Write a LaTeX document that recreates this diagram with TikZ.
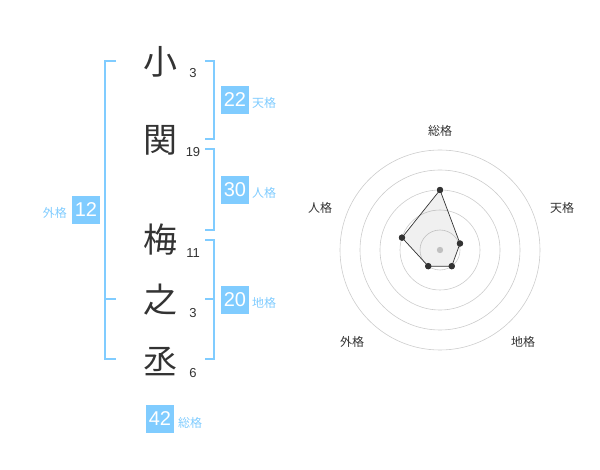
\documentclass[tikz,border=0pt]{standalone}
\usepackage{fontspec}
\usetikzlibrary{calc}
\setmainfont{Liberation Sans}
\newfontfamily\jp{Noto Sans CJK JP}
\definecolor{kblue}{HTML}{80CCFF}
\definecolor{kdark}{HTML}{333333}
\definecolor{kgrid}{HTML}{CCCCCC}
\begin{document}
\begin{tikzpicture}[x=1pt,y=-1pt,
  kanji/.style={font=\jp\fontsize{34}{34}\selectfont, text=kdark, inner sep=0pt},
  stroke/.style={font=\fontsize{13}{13}\selectfont, text=kdark, inner sep=0pt},
  brk/.style={draw=kblue, line width=1.8pt},
  valbox/.style={fill=kblue, text=white, minimum width=28pt, minimum height=28pt, inner sep=0pt, font=\fontsize{20}{20}\selectfont},
  kaku/.style={text=kblue, font=\jp\fontsize{12}{12}\selectfont, inner sep=0pt},
  axlab/.style={text=kdark, font=\jp\fontsize{12}{12}\selectfont, inner sep=0pt},
  ring/.style={draw=kgrid, line width=0.6pt},
  pt/.style={circle, fill=kdark, inner sep=0pt, minimum size=6pt}]
\useasboundingbox (0,0) rectangle (600,470);
% characters
\node[kanji] (c1) at (160,62) {小};
\node[kanji] (c2) at (160,140) {関};
\node[kanji] (c3) at (160,240) {梅};
\node[kanji] (c4) at (160,300) {之};
\node[kanji] (c5) at (160,362) {丞};
\node[stroke] (s1) at (193,73) {3};
\node[stroke] (s2) at (193,152) {19};
\node[stroke] (s3) at (193,253) {11};
\node[stroke] (s4) at (193,313) {3};
\node[stroke] (s5) at (193,373) {6};
% brackets
\coordinate (L1) at (116,61); \coordinate (L2) at (105,61);
\coordinate (L3) at (105,359); \coordinate (L4) at (116,359);
\coordinate (Lm1) at (105,299); \coordinate (Lm2) at (116,299);
\draw[brk] (L1) -- (L2) -- (L3) -- (L4);
\draw[brk] (Lm1) -- (Lm2);
\coordinate (T1) at (205,61); \coordinate (T2) at (214,61);
\coordinate (T3) at (214,139); \coordinate (T4) at (205,139);
\draw[brk] (T1) -- (T2) -- (T3) -- (T4);
\coordinate (J1) at (205,149); \coordinate (J2) at (214,149);
\coordinate (J3) at (214,230); \coordinate (J4) at (205,230);
\draw[brk] (J1) -- (J2) -- (J3) -- (J4);
\coordinate (C1) at (205,240); \coordinate (C2) at (214,240);
\coordinate (C3) at (214,359); \coordinate (C4) at (205,359);
\coordinate (Cm1) at (205,299); \coordinate (Cm2) at (214,299);
\draw[brk] (C1) -- (C2) -- (C3) -- (C4);
\draw[brk] (Cm1) -- (Cm2);
% value boxes
\node[valbox] (v22) at (235,100) {22};
\node[kaku, anchor=west] (k22) at (252,103) {天格};
\node[valbox] (v30) at (235,190) {30};
\node[kaku, anchor=west] (k30) at (252,193) {人格};
\node[valbox] (v20) at (235,300) {20};
\node[kaku, anchor=west] (k20) at (252,303) {地格};
\node[valbox] (v12) at (86,210) {12};
\node[kaku, anchor=east] (k12) at (67,213) {外格};
\node[valbox] (v42) at (160,419) {42};
\node[kaku, anchor=west] (k42) at (178,423) {総格};
% radar
\coordinate (O) at (440,250);
\foreach \r in {20,40,60,80,100} \draw[ring] (O) circle[radius=\r];
\fill[kgrid] (O) circle[radius=3.2];
\node[pt] (p1) at ($(O)+(0,-60)$) {};
\node[pt] (p2) at ($(O)+({21*cos(18)},{-21*sin(18)})$) {};
\node[pt] (p3) at ($(O)+({20*cos(54)},{20*sin(54)})$) {};
\node[pt] (p4) at ($(O)+({-20*cos(54)},{20*sin(54)})$) {};
\node[pt] (p5) at ($(O)+({-40*cos(18)},{-40*sin(18)})$) {};
\fill[black, fill opacity=0.06] (p1.center) -- (p2.center) -- (p3.center) -- (p4.center) -- (p5.center) -- cycle;
\draw[kdark, line width=0.7pt] (p1.center) -- (p2.center) -- (p3.center) -- (p4.center) -- (p5.center) -- cycle;
\foreach \p in {p1,p2,p3,p4,p5} \fill[kdark] (\p) circle[radius=3.2];
\node[axlab] (a1) at (440,131) {総格};
\node[axlab] (a2) at (562,208) {天格};
\node[axlab] (a3) at (523,342) {地格};
\node[axlab] (a4) at (352,342) {外格};
\node[axlab] (a5) at (320,208) {人格};
\end{tikzpicture}
\end{document}
